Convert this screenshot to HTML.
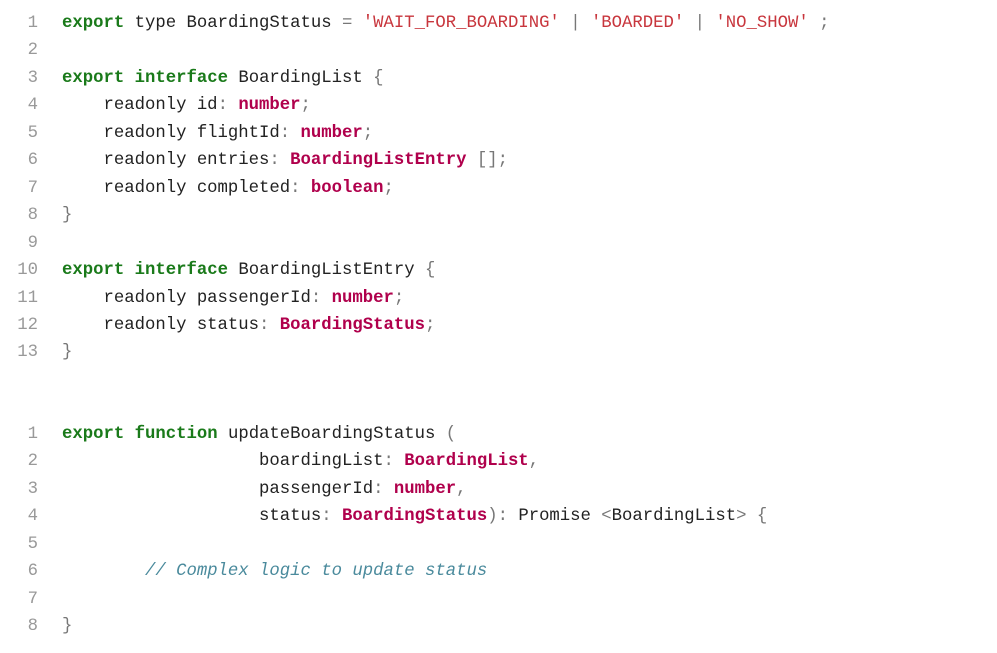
<!DOCTYPE html>
<html><head><meta charset="utf-8"><style>
body{margin:0;background:#fff;width:997px;height:653px;overflow:hidden}
.b{position:absolute;left:0;font-family:"Liberation Mono",monospace;font-size:17.3px;line-height:27.45px;white-space:pre;color:#222}
.n{display:inline-block;width:38px;text-align:right;color:#999;margin-right:24px}
.k{color:#1a7a1a;font-weight:bold}
.t{color:#b0004c;font-weight:bold}
.s{color:#c8363d}
.p{color:#777}
.c{color:#4a8a9c;font-style:italic}
</style></head><body>
<div class="b" style="top:10px"><span class="n">1</span><span class="k">export</span> type BoardingStatus <span class="p">=</span> <span class="s">'WAIT_FOR_BOARDING'</span> <span class="p">|</span> <span class="s">'BOARDED'</span> <span class="p">|</span> <span class="s">'NO_SHOW'</span> <span class="p">;</span>
<span class="n">2</span>
<span class="n">3</span><span class="k">export</span> <span class="k">interface</span> BoardingList <span class="p">{</span>
<span class="n">4</span>    readonly id<span class="p">:</span> <span class="t">number</span><span class="p">;</span>
<span class="n">5</span>    readonly flightId<span class="p">:</span> <span class="t">number</span><span class="p">;</span>
<span class="n">6</span>    readonly entries<span class="p">:</span> <span class="t">BoardingListEntry</span> <span class="p">[];</span>
<span class="n">7</span>    readonly completed<span class="p">:</span> <span class="t">boolean</span><span class="p">;</span>
<span class="n">8</span><span class="p">}</span>
<span class="n">9</span>
<span class="n">10</span><span class="k">export</span> <span class="k">interface</span> BoardingListEntry <span class="p">{</span>
<span class="n">11</span>    readonly passengerId<span class="p">:</span> <span class="t">number</span><span class="p">;</span>
<span class="n">12</span>    readonly status<span class="p">:</span> <span class="t">BoardingStatus</span><span class="p">;</span>
<span class="n">13</span><span class="p">}</span></div>
<div class="b" style="top:421px"><span class="n">1</span><span class="k">export</span> <span class="k">function</span> updateBoardingStatus <span class="p">(</span>
<span class="n">2</span>                   boardingList<span class="p">:</span> <span class="t">BoardingList</span><span class="p">,</span>
<span class="n">3</span>                   passengerId<span class="p">:</span> <span class="t">number</span><span class="p">,</span>
<span class="n">4</span>                   status<span class="p">:</span> <span class="t">BoardingStatus</span><span class="p">):</span> Promise <span class="p">&lt;</span>BoardingList<span class="p">&gt;</span> <span class="p">{</span>
<span class="n">5</span>
<span class="n">6</span>        <span class="c">// Complex logic to update status</span>
<span class="n">7</span>
<span class="n">8</span><span class="p">}</span></div>
</body></html>
